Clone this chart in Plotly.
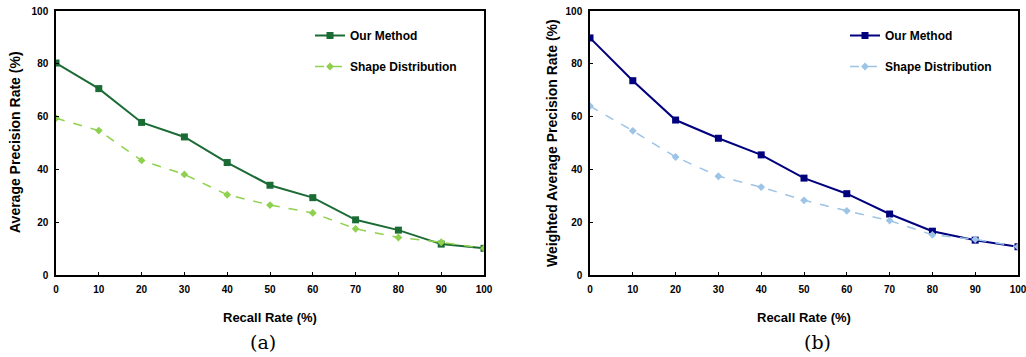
import plotly.graph_objects as go

recall = [0, 10, 20, 30, 40, 50, 60, 70, 80, 90, 100]
a_ours = [80.3, 70.6, 57.8, 52.3, 42.6, 34.0, 29.3, 20.9, 17.0, 11.7, 10.1]
a_shape = [59.4, 54.7, 43.4, 38.1, 30.4, 26.5, 23.5, 17.5, 14.2, 12.4, 10.1]
b_ours = [89.8, 73.6, 58.7, 51.8, 45.5, 36.7, 30.8, 23.1, 16.6, 13.2, 10.7]
b_shape = [64.0, 54.6, 44.7, 37.4, 33.3, 28.3, 24.3, 20.6, 15.2, 13.5, 10.7]
y_ticks = [0, 20, 40, 60, 80, 100]
x_ticks = recall

FONT = "Liberation Sans"
W, H = 1026, 357
fig = go.Figure()

fig.add_trace(go.Scatter(x=recall, y=a_ours, name="<b>Our Method</b>", mode="lines+markers",
                         line=dict(color="#1b6b35", width=2), marker=dict(symbol="square", size=7, color="#1b6b35"),
                         xaxis="x", yaxis="y", legend="legend", legendgroup="a1"))
fig.add_trace(go.Scatter(x=recall, y=a_shape, name="<b>Shape Distribution</b>", mode="lines+markers",
                         line=dict(color="#8fd14f", width=1.5, dash="dash"), marker=dict(symbol="diamond", size=6, color="#8fd14f"),
                         xaxis="x", yaxis="y", legend="legend", legendgroup="a2"))
fig.add_trace(go.Scatter(x=recall, y=b_ours, name="<b>Our Method</b>", mode="lines+markers",
                         line=dict(color="#00007f", width=2), marker=dict(symbol="square", size=7, color="#00007f"),
                         xaxis="x2", yaxis="y2", legend="legend2", legendgroup="b1"))
fig.add_trace(go.Scatter(x=recall, y=b_shape, name="<b>Shape Distribution</b>", mode="lines+markers",
                         line=dict(color="#9dc3e6", width=1.5, dash="dash"), marker=dict(symbol="diamond", size=6, color="#9dc3e6"),
                         xaxis="x2", yaxis="y2", legend="legend2", legendgroup="b2"))

axis_common = dict(showgrid=False, zeroline=False, showline=True, linecolor="black", linewidth=1.5,
                   mirror=True, ticks="inside", ticklen=3, tickcolor="black", automargin=False,
                   ticklabeloverflow="allow",
                   tickfont=dict(family=FONT, size=10, color="black"))
xaxis_common = dict(range=[0, 100], tickvals=x_ticks, ticktext=[f"<b>{v}</b>" for v in x_ticks], **axis_common)
yaxis_common = dict(range=[0, 100], tickvals=y_ticks, ticktext=[f"<b>{v}</b>" for v in y_ticks], **axis_common)
ydom = [1 - 275 / H, 1 - 11 / H]

def py(p):
    return 1 - p / H

def px(p):
    return p / W

title_font = dict(family=FONT, size=13, color="black")
ytitle_font = dict(family=FONT, size=14, color="black")
annotations = [
    dict(text="<b>Recall Rate (%)</b>", x=px(270), y=py(317), font=title_font),
    dict(text="<b>Recall Rate (%)</b>", x=px(804), y=py(317), font=title_font),
    dict(text="<b>Average Precision Rate (%)</b>", x=px(15), y=py(142), textangle=-90, font=ytitle_font),
    dict(text="<b>Weighted Average Precision Rate (%)</b>", x=px(552), y=py(143), textangle=-90, font=ytitle_font),
    dict(text="(a)", x=px(263), y=py(342), font=dict(family="DejaVu Serif", size=19, color="black")),
    dict(text="(b)", x=px(817), y=py(342), font=dict(family="DejaVu Serif", size=19, color="black")),
]
for a in annotations:
    a.update(xref="paper", yref="paper", showarrow=False, xanchor="center", yanchor="middle")

fig.update_layout(
    width=W, height=H, margin=dict(l=0, r=0, t=0, b=0, autoexpand=False),
    paper_bgcolor="white", plot_bgcolor="white",
    font=dict(family=FONT, color="black"),
    xaxis=dict(domain=[px(56), px(484)], anchor="y", ticklabelstandoff=4, **xaxis_common),
    yaxis=dict(domain=ydom, anchor="x", ticklabelstandoff=4, **yaxis_common),
    xaxis2=dict(domain=[px(590), px(1018)], anchor="y2", ticklabelstandoff=4, **xaxis_common),
    yaxis2=dict(domain=ydom, anchor="x2", ticklabelstandoff=4, **yaxis_common),
    legend=dict(x=px(310), y=py(21), xanchor="left", yanchor="top", bgcolor="rgba(0,0,0,0)",
                font=dict(family=FONT, size=12), tracegroupgap=12, itemwidth=30),
    legend2=dict(x=px(845), y=py(21), xanchor="left", yanchor="top", bgcolor="rgba(0,0,0,0)",
                 font=dict(family=FONT, size=12), tracegroupgap=12, itemwidth=30),
    annotations=annotations,
)

fig.write_html("out.html", config={"displayModeBar": False},
               post_script="document.body.style.margin='0';document.body.style.overflow='hidden';")
